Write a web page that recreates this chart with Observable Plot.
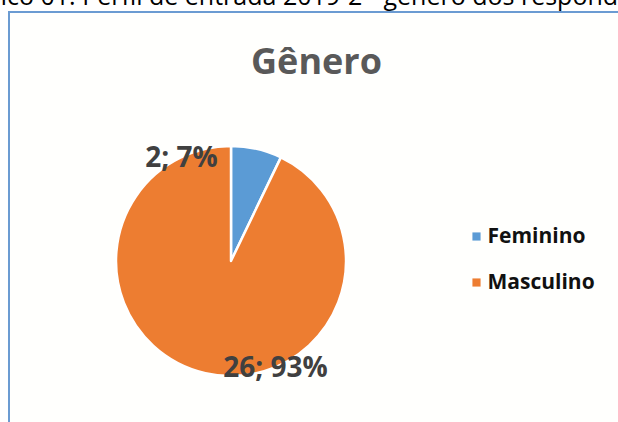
<!DOCTYPE html>
<html>
<head>
<meta charset="utf-8">
<script src="https://cdn.jsdelivr.net/npm/d3@7"></script>
<script src="https://cdn.jsdelivr.net/npm/@observablehq/plot@0.6"></script>
<style>
  html, body { margin: 0; padding: 0; background: #fff; }
  #wrap { position: relative; width: 618px; height: 422px; overflow: hidden; font-family: "Open Sans", sans-serif; }
  #caption { position: absolute; left: -50px; top: -17px; font-size: 25px; line-height: 1; color: #000; white-space: nowrap; }
  #box { position: absolute; left: 8px; top: 11px; width: 640px; height: 440px; border: 2px solid #6b9bd2; box-sizing: border-box; background: #fffffd; }
  #chart { position: absolute; left: 0; top: 0; }
</style>
</head>
<body>
<div id="wrap">
  <div id="caption">Gráfico 01: Perfil de entrada 2019-2 - gênero dos respondentes</div>
  <div id="box"></div>
  <div id="chart"></div>
</div>
<script>
// ---- data ----
const categories = ["Feminino", "Masculino"];
const counts = [2, 26];
const percentLabels = ["7%", "93%"];
const colors = ["#5b9bd5", "#ed7d31"];
const title = "Gênero";

// ---- layout (not data) ----
const W = 618, H = 422;
const pieCenter = [231, 261];
const pieRadius = 115;
const labelPos = [[181, 158], [275, 368]];
const legendX = 476, legendY = [236, 282];

const rows = categories.map((c, i) => ({
  category: c, count: counts[i], label: `${counts[i]}; ${percentLabels[i]}`,
  lx: labelPos[i][0], ly: labelPos[i][1], gx: legendX, gy: legendY[i]
}));

function pieMark(index, scales, values, dimensions) {
  const pie = d3.pie().sort(null).value(d => d.count)(rows);
  const arc = d3.arc().innerRadius(0).outerRadius(pieRadius);
  const cx = scales.x(pieCenter[0]), cy = scales.y(pieCenter[1]);
  const g = d3.create("svg:g").attr("transform", `translate(${cx},${cy})`);
  g.selectAll("path").data(pie).join("path")
    .attr("d", arc)
    .attr("fill", d => scales.color(d.data.category))
    .attr("stroke", "#fff")
    .attr("stroke-width", 2.5)
    .attr("stroke-linejoin", "round");
  return g.node();
}

const plot = Plot.plot({
  width: W, height: H, margin: 0,
  x: { domain: [0, W], range: [0, W], axis: null },
  y: { domain: [0, H], range: [0, H], axis: null },
  color: { domain: categories, range: colors },
  style: { background: "transparent", fontFamily: "Open Sans, sans-serif" },
  marks: [
    pieMark,
    Plot.text([title], { x: () => 316, y: () => 62, text: d => d, fontSize: 36, fontWeight: "bold", fill: "#595959" }),
    Plot.text(rows, { x: "lx", y: "ly", text: "label", fontSize: 28, fontWeight: "bold", fill: "#404040" }),
    Plot.dot(rows, { x: "gx", y: "gy", symbol: "square", r: 4.6, fill: "category", stroke: null }),
    Plot.text(rows, { x: d => d.gx + 11, y: "gy", text: "category", textAnchor: "start", fontSize: 21, fontWeight: "bold", fill: "#111" })
  ]
});
document.getElementById("chart").appendChild(plot);
</script>
</body>
</html>
